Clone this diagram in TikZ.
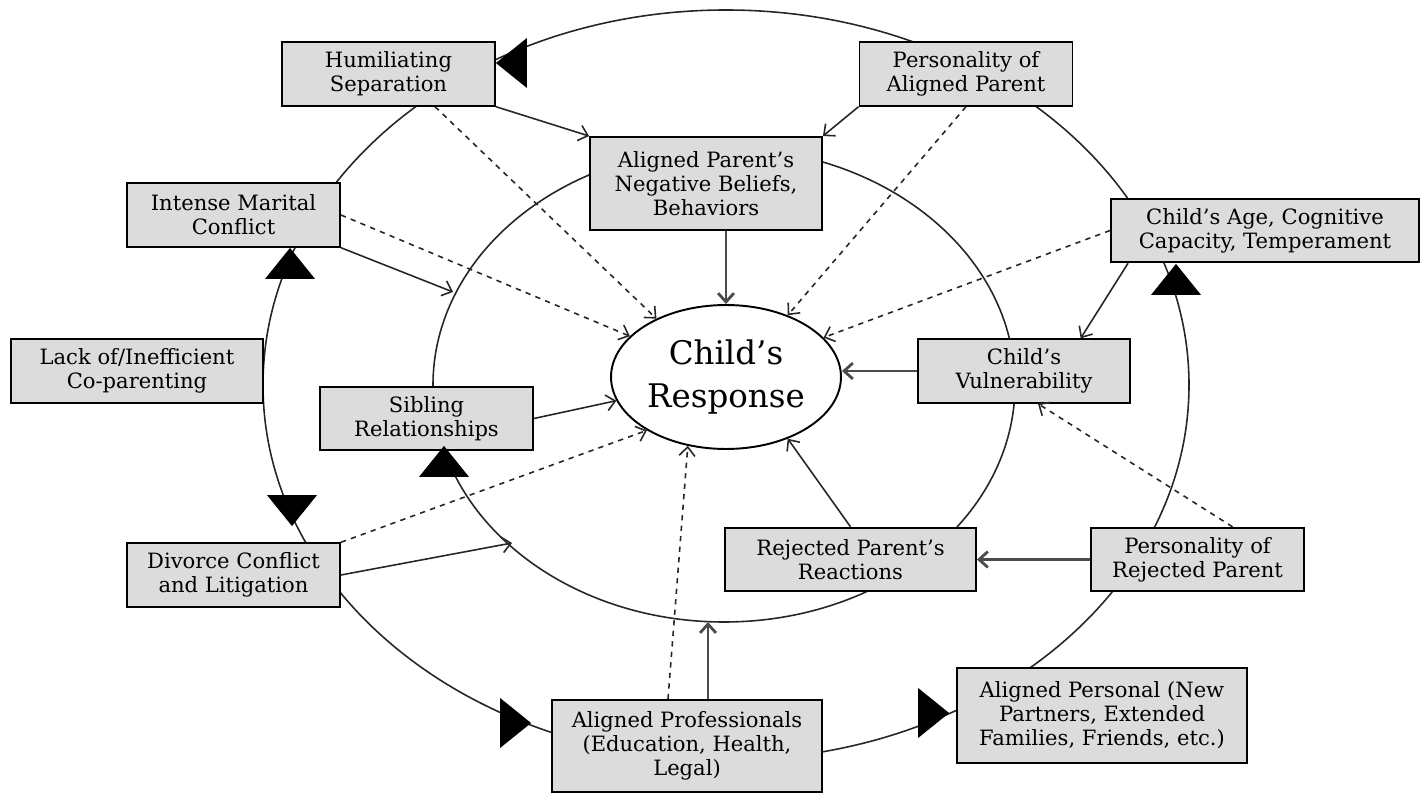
\documentclass[tikz,border=0pt]{standalone}
\usepackage{fontspec}
\setmainfont{DejaVu Serif}
\usetikzlibrary{arrows.meta,shapes.geometric}
\definecolor{boxgray}{RGB}{220,220,220}
\definecolor{linkgray}{RGB}{75,75,75}

\begin{document}
\begin{tikzpicture}[x=0.02cm,y=-0.02cm,
	>={Straight Barb[length=5pt,width=9pt]},
	factor/.style={draw,fill=boxgray,line width=1.1pt,minimum width=4.26cm,minimum height=1.27cm,align=center,inner sep=1pt,font=\fontsize{12}{13.6}\selectfont},
	ring/.style={line width=0.9pt,draw=black!85},
	link/.style={line width=0.9pt,->,draw=black!85},
	thicklink/.style={line width=1.6pt,->,draw=linkgray},
	dlink/.style={line width=0.9pt,->,dashed,draw=black!85},
	ringtip/.style={isosceles triangle,isosceles triangle stretches,fill=black,inner sep=0pt,minimum width=1.0cm,minimum height=0.62cm,anchor=apex}]
	\useasboundingbox (0,0) rectangle (1420,793);
	\draw[ring] (726,385) ellipse [x radius=463,y radius=375];
	\draw[ring] (724,385) ellipse [x radius=291,y radius=237];
	\node[factor] (hum) at (388.5,74){Humiliating\\Separation};
	\node[factor] (inten) at (233.5,215){Intense Marital\\Conflict};
	\node[factor,minimum width=5.04cm] (lack) at (137,371){Lack of/Inefficient\\Co-parenting};
	\node[factor] (sib) at (426.5,418.5){Sibling\\Relationships};
	\node[factor] (div) at (233.5,575){Divorce Conflict\\and Litigation};
	\node[factor,minimum width=5.4cm,minimum height=1.84cm] (prof) at (687,746){Aligned Professionals\\(Education, Health,\\Legal)};
	\node[factor,minimum width=5.8cm,minimum height=1.9cm] (apers) at (1102,715.5){Aligned Personal (New\\Partners, Extended\\Families, Friends, etc.)};
	\node[factor] (rejp) at (1197.5,559.5){Personality of\\Rejected Parent};
	\node[factor,minimum width=5.02cm] (rejr) at (850.5,559.5){Rejected Parent's\\Reactions};
	\node[factor,minimum width=4.24cm] (vuln) at (1024,371){Child's\\Vulnerability};
	\node[factor,minimum width=6.16cm] (age) at (1265,230.5){Child's Age, Cognitive\\Capacity, Temperament};
	\node[factor] (alp) at (966,74){Personality of\\Aligned Parent};
	\node[factor,minimum width=4.64cm,minimum height=1.86cm] (apn) at (706,183.5){Aligned Parent's\\Negative Beliefs,\\Behaviors};
	\node[draw,ellipse,fill=white,line width=1.1pt,minimum width=4.6cm,minimum height=2.88cm,inner sep=0pt,align=center,font=\fontsize{18.5}{24}\selectfont] (resp) at (726,377){Child's\\Response};
	\coordinate (ringA) at (453,292);
	\coordinate (ringB) at (512,543);
	\coordinate (ringC) at (708,622);
	\draw[link] (hum.south east) -- (apn.north west);
	\draw[link] (alp.south west) -- (apn.north east);
	\draw[thicklink] (resp.north |- apn.south) -- (resp.north);
	\draw[link] (inten.south east) -- (ringA);
	\draw[link] (sib.east) -- (resp);
	\draw[link] (div.east) -- (ringB);
	\draw[thicklink] (prof.north -| ringC) -- (ringC);
	\draw[link] (rejr.north) -- (resp.-45);
	\draw[thicklink] (rejp.west) -- (rejr.east);
	\draw[thicklink] (vuln.west) -- (vuln.west -| resp.east);
	\draw[link] ([xshift=0.36cm]age.south west) -- (vuln.30);
	\draw[dlink] ([xshift=0.93cm]hum.south) -- (resp.140);
	\draw[dlink] (inten.east) -- (resp.157);
	\draw[dlink] (alp.south) -- (resp.45);
	\draw[dlink] (age.west) -- (resp.22);
	\draw[dlink] (div.north east) -- (resp.214);
	\draw[dlink] ([xshift=-0.38cm]prof.north) -- (resp.241);
	\draw[dlink] ([xshift=0.7cm]rejp.north) -- ([xshift=0.28cm]vuln.south);
	\node[ringtip,rotate=180] (tipa) at (495,63){};
	\node[ringtip,rotate=90] (tipb) at (290,247){};
	\node[ringtip,rotate=-90] (tipc) at (292,527){};
	\node[ringtip] (tipd) at (532,723){};
	\node[ringtip] (tipe) at (950,713){};
	\node[ringtip,rotate=90] (tipf) at (1176,263){};
	\node[ringtip,rotate=90] (tipg) at (444,445){};
\end{tikzpicture}
\end{document}
